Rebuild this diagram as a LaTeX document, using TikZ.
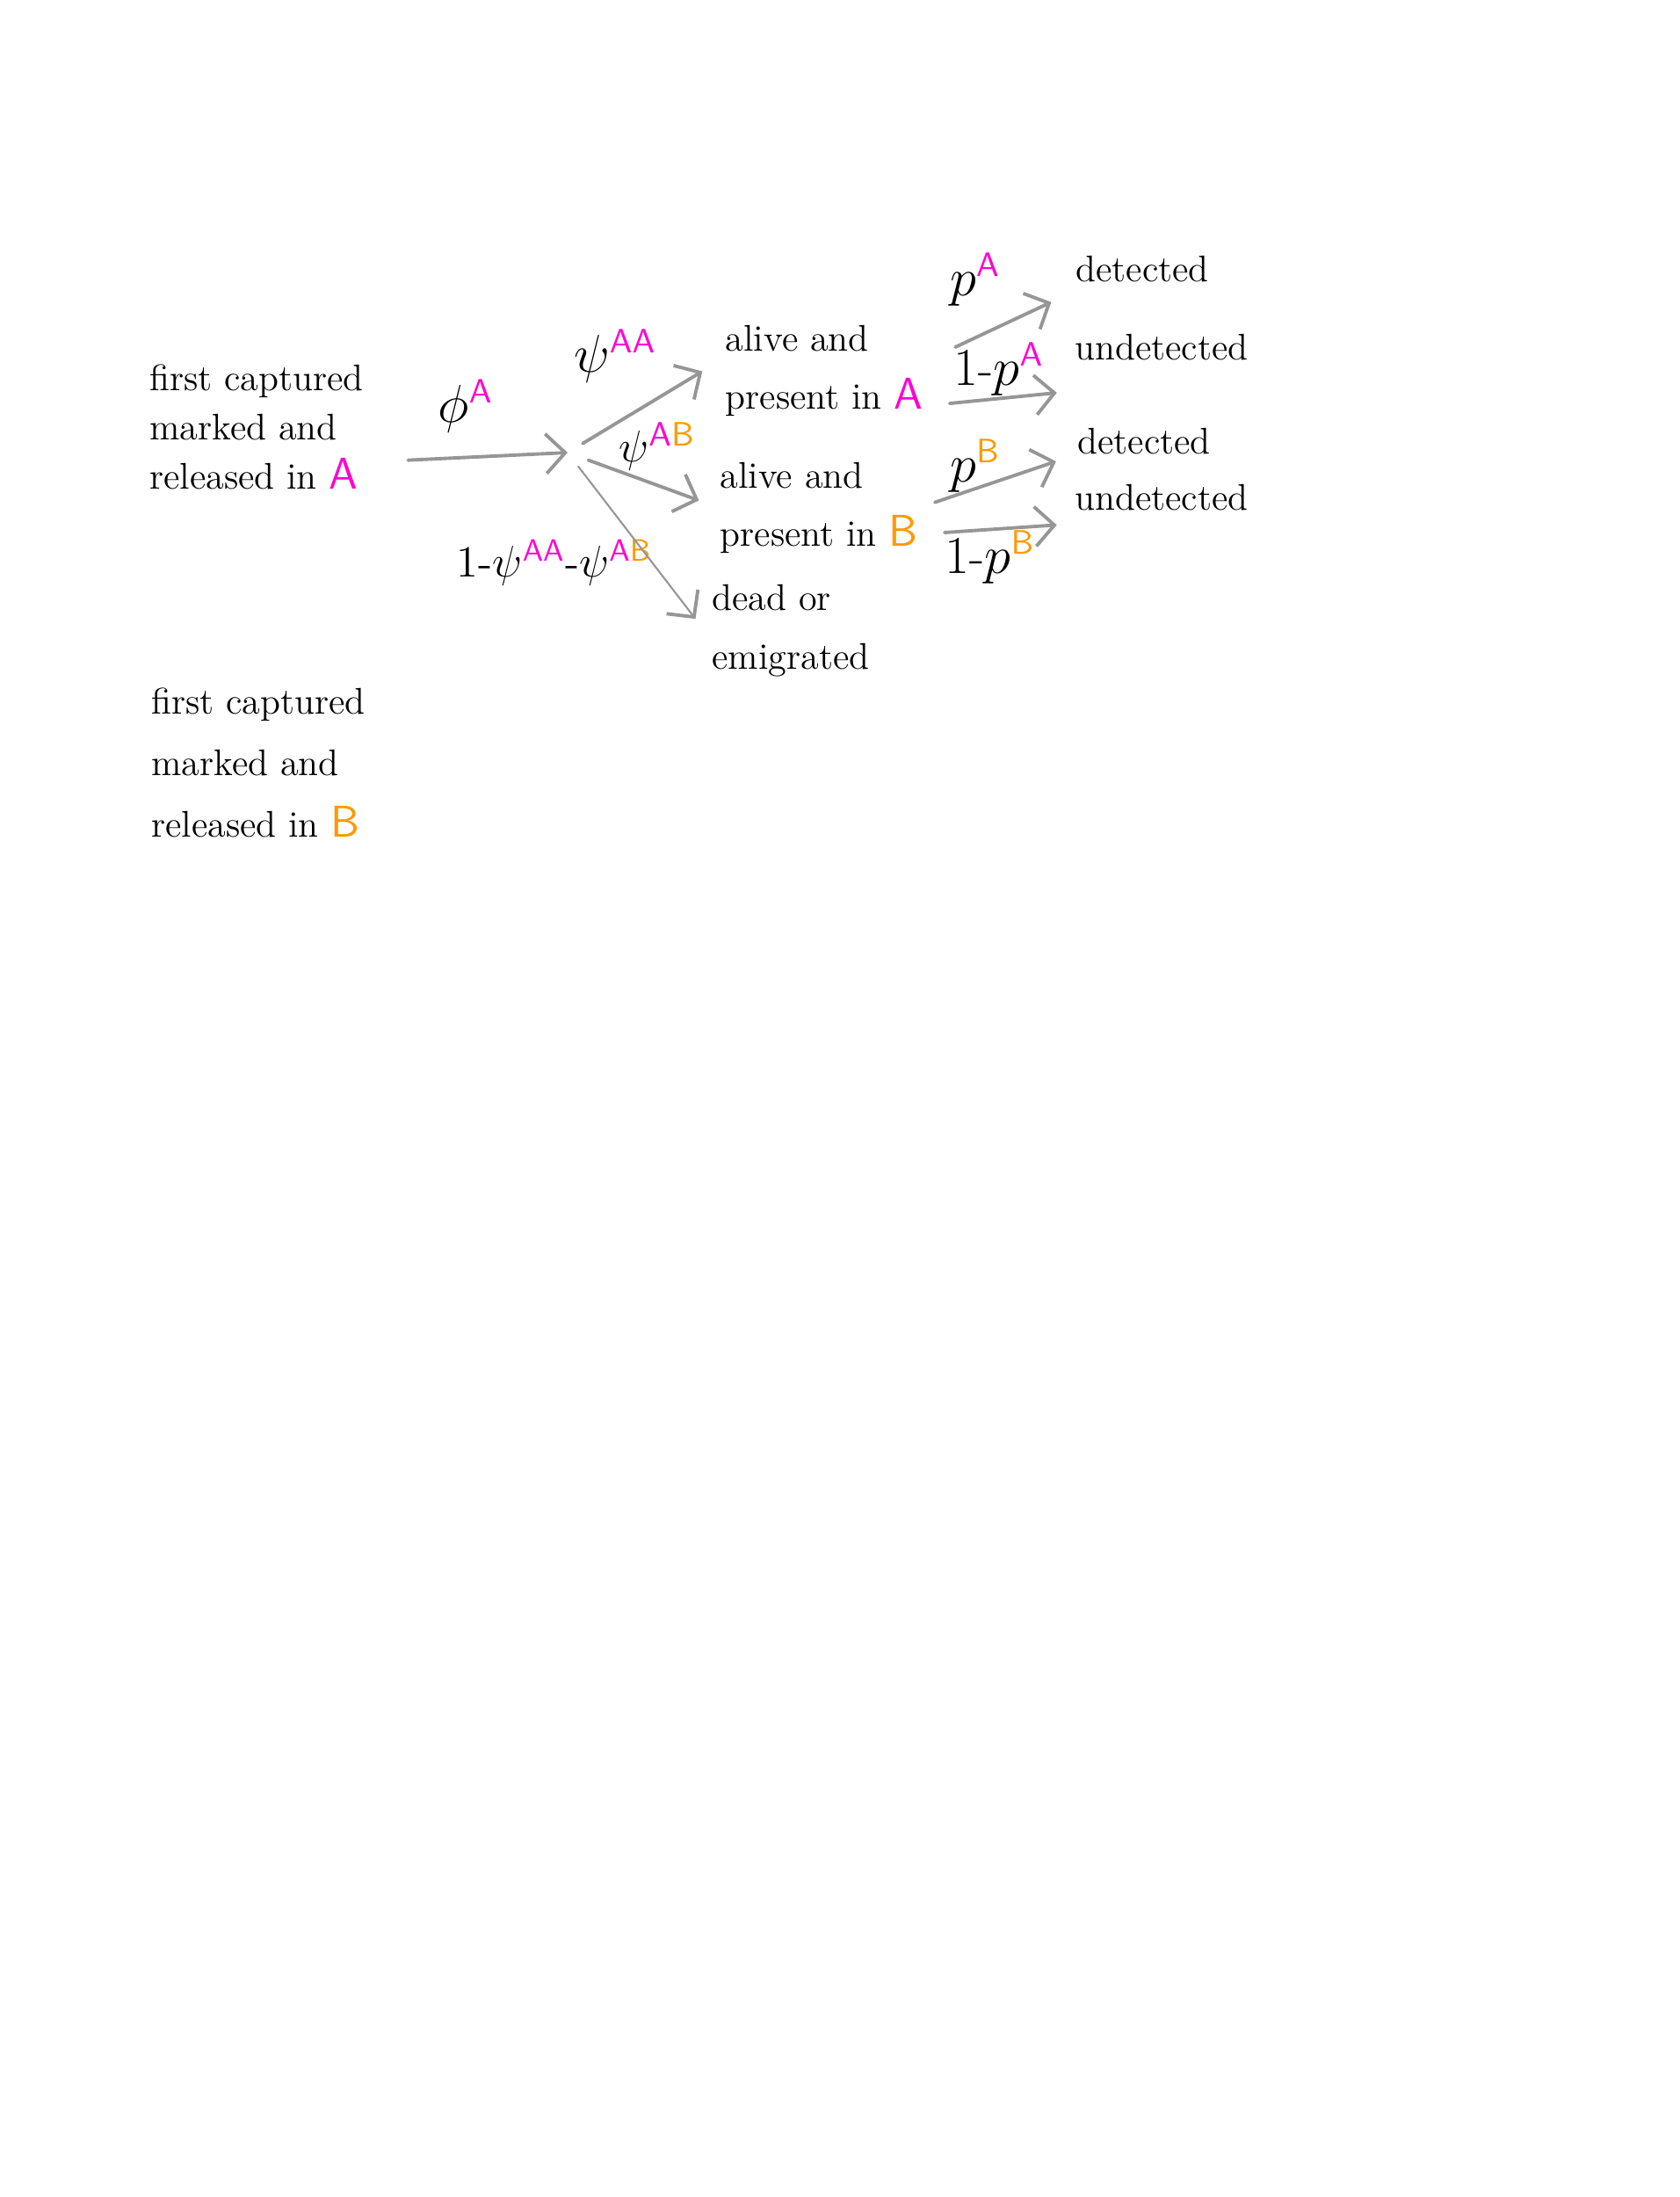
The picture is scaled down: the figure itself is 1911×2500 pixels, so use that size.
\documentclass[tikz,border=0pt]{standalone}
\usepackage{amsmath}
\usepackage{tikz}
\usetikzlibrary{arrows.meta,calc}
\definecolor{siteA}{RGB}{255,0,210}
\definecolor{siteB}{RGB}{255,153,0}
\definecolor{flowgray}{RGB}{150,150,150}
\newcommand{\inA}{{\color{siteA}\mathsf{A}}}
\newcommand{\inB}{{\color{siteB}\mathsf{B}}}
\newcommand{\dash}{\text{-}}
\tikzset{
    hand/.style={align=left, font=\fontsize{12}{19}\selectfont, inner sep=0pt},
    prob/.style={font=\fontsize{16}{19}\selectfont, inner sep=0pt},
    flow/.style={draw=flowgray, line width=1.1pt, line cap=round,
        -{Straight Barb[length=2.2mm,width=4.5mm,line width=1.1pt]}},
    thinflow/.style={flow, line width=0.6pt}
}

\begin{document}
\begin{tikzpicture}[x=0.1mm,y=-0.1mm]
        \useasboundingbox[fill=white] (0,0) rectangle (1911,2500);
        % Release sites
        \node[hand, font=\fontsize{12}{16}\selectfont] (capA) at (292,486) {first captured\\marked and\\released in {\color{siteA}\textsf{\Large A}}};
        \node[hand, font=\fontsize{12}{20}\selectfont] (capB) at (294,868) {first captured\\marked and\\released in {\color{siteB}\textsf{\Large B}}};
        % Survival and movement
        \node[prob] (phiA) at (530,462) {$\phi^{\inA}$};
        \coordinate (hub) at (646,515);
        \node[prob] (psiAA) at (700,405) {$\psi^{\inA\inA}$};
        \node[prob, font=\fontsize{15}{19}\selectfont] (psiAB) at (748,508) {$\psi^{\inA\inB}$};
        \node[prob, font=\fontsize{14}{19}\selectfont] (psiNo) at (631,640) {$1\dash\psi^{\inA\inA}\dash\psi^{\inA\inB}$};
        \node[hand] (aliveA) at (938,422) {alive and\\present in {\color{siteA}\textsf{\Large A}}};
        \node[hand] (aliveB) at (932,578) {alive and\\present in {\color{siteB}\textsf{\Large B}}};
        \node[hand] (dead) at (900,718) {dead or\\emigrated};
        % Detection
        \node[prob] (pA) at (1110,318) {$p^{\inA}$};
        \node[prob] (npA) at (1137,420) {$1\dash p^{\inA}$};
        \node[prob] (pB) at (1110,530) {$p^{\inB}$};
        \node[prob] (npB) at (1127,634) {$1\dash p^{\inB}$};
        \node[hand] (detA) at (1300,306) {detected};
        \node[hand] (undA) at (1322,395) {undetected};
        \node[hand] (detB) at (1302,502) {detected};
        \node[hand] (undB) at (1322,566) {undetected};

        \draw[flow, shorten <=5mm] ([yshift=-4mm]capA.east) -- (hub);
        \draw[flow, shorten <=2mm, shorten >=3mm] (hub) -- ([yshift=1.5mm]aliveA.west);
        \draw[flow, shorten <=2.5mm, shorten >=2.5mm] (hub) -- (aliveB.west);
        \draw[thinflow, shorten <=2mm, shorten >=3mm] (hub) -- ([yshift=-1mm]dead.west);
        \draw[flow, shorten <=4mm, shorten >=3mm] ([yshift=1mm]aliveA.east) -- ([yshift=-2.5mm]detA.west);
        \draw[flow, shorten <=3mm, shorten >=2mm] ([yshift=-4mm]aliveA.east) -- ([yshift=-5mm]undA.west);
        \draw[flow, shorten <=2mm, shorten >=2.5mm] (aliveB.east) -- ([yshift=-1.5mm]detB.west);
        \draw[flow, shorten <=3mm, shorten >=2mm] ([yshift=-3mm]aliveB.east) -- ([yshift=-3mm]undB.west);
    \end{tikzpicture}
\end{document}
